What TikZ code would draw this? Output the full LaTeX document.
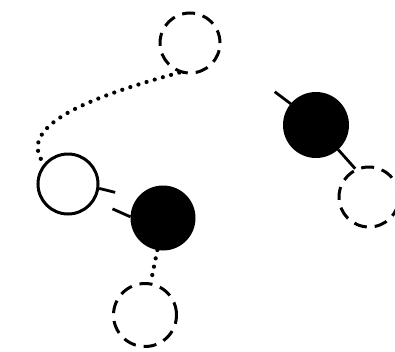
\documentclass[tikz,border=0pt]{standalone}
\usetikzlibrary{calc}
\tikzset{
  atom/.style={circle,draw,line width=3pt,inner sep=0pt,minimum size=60pt},
  opena/.style={atom,fill=white},
  fulla/.style={atom,fill=black},
  ghosta/.style={atom,dash pattern=on 13pt off 8pt},
  dotl/.style={line width=4.2pt,line cap=round,dash pattern=on 0pt off 8.5pt},
  bond/.style={line width=2.8pt}
}
\begin{document}
\begin{tikzpicture}[x=1pt,y=-1pt]
\useasboundingbox (0,0) rectangle (395,351);
\clip (0,0) rectangle (395,351);
% --- left chain
\node[ghosta] (ghtop) at (190,43) {};
\node[opena] (opn) at (68,184) {};
\node[fulla,minimum size=62pt] (blk) at (163,218) {};
\node[ghosta,minimum size=63pt] (ghbot) at (145,315) {};
\draw[dotl] (ghtop.250) .. controls +(-80,22) and +(-30,-40) .. (opn.140);
\draw[bond] (opn.-8) -- ++(16,4);
\draw[bond] (blk.178) -- ++(-18,-8);
\draw[dotl] (blk.-100) -- (ghbot.80);
% --- right pair
\node[fulla,minimum size=63pt] (blkr) at (316,125) {};
\node[ghosta] (ghr) at (369,197) {};
\draw[bond] (blkr.140) -- ++(-16,-12);
\draw[bond] (blkr.-48) -- (ghr.116);
\end{tikzpicture}
\end{document}
